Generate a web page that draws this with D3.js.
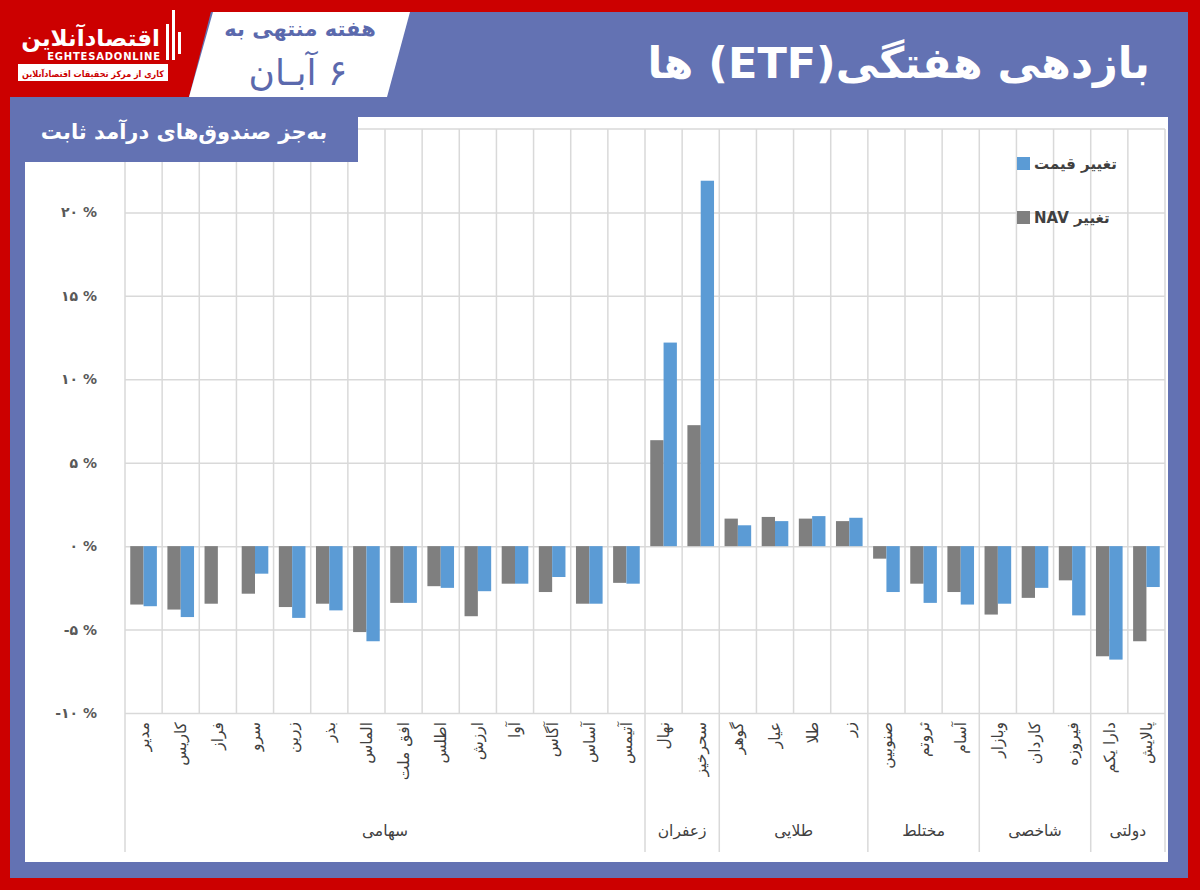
<!DOCTYPE html>
<html><head><meta charset="utf-8">
<script src="https://cdn.jsdelivr.net/npm/d3@7"></script>
<style>
body{margin:0;background:#fff}
svg{display:block}
text{font-family:"DejaVu Sans",sans-serif}
</style>
</head><body>
<svg id="chart" width="1200" height="890"></svg>
<script>
const categories = ["مدیر","کاریس","فراز","سرو","زرین","بذر","الماس","افق ملت","اطلس","ارزش","آوا","آگاس","آساس","آتیمس",
  "نهال","سحرخیز","گوهر","عیار","طلا","زر","صنوبین","ثروتم","آسام","وبازار","کاردان","فیروزه","دارا یکم","پالایش"];
const groups = ["سهامی","زعفران","طلایی","مختلط","شاخصی","دولتی"];
const groupSizes = [14,2,4,3,3,2];
const navChange = [-3.5,-3.8,-3.45,-2.85,-3.65,-3.45,-5.15,-3.4,-2.4,-4.2,-2.25,-2.75,-3.45,-2.2,
  6.35,7.25,1.65,1.75,1.65,1.5,-0.75,-2.25,-2.75,-4.1,-3.1,-2.05,-6.6,-5.7];
const priceChange = [-3.6,-4.25,null,-1.65,-4.3,-3.85,-5.7,-3.4,-2.5,-2.7,-2.25,-1.85,-3.45,-2.25,
  12.2,21.9,1.25,1.5,1.8,1.7,-2.75,-3.4,-3.5,-3.45,-2.5,-4.15,-6.8,-2.45];
const seriesKeys = ["nav","price"];
const seriesNames = ["تغییر NAV","تغییر قیمت"];
const seriesColors = ["#7f7f7f","#5b9bd5"];
const yTicks = [-10,-5,0,5,10,15,20];
const yTickLabels = ["-۱۰ %","-۵ %","۰ %","۵ %","۱۰ %","۱۵ %","۲۰ %"];
const title = "بازدهی هفتگی(ETF) ها";
const subtitle = "به‌جز صندوق‌های درآمد ثابت";
const dateLine1 = "هفته منتهی به";
const dateLine2 = "۶ آبـان";

const RLE = "\u202B", PDF = "\u202C";
const svg = d3.select("#chart");

// frame
svg.append("rect").attr("width",1200).attr("height",890).attr("fill","#cc0000");
svg.append("rect").attr("x",10).attr("y",12).attr("width",1178).attr("height",866).attr("fill","#6372b3");
// logo red area
svg.append("path").attr("d","M0,0H214L189,97H0Z").attr("fill","#cc0000");
// date parallelogram
svg.append("path").attr("d","M213,12H410L387,97H189Z").attr("fill","#ffffff");
svg.append("text").attr("x",300).attr("y",36).attr("text-anchor","middle").attr("fill","#5b69ad")
  .attr("font-size",21).attr("font-weight","bold").text(dateLine1);
svg.append("text").attr("x",298).attr("y",85).attr("text-anchor","middle").attr("fill","#5b69ad")
  .attr("font-size",36).text(RLE+dateLine2+PDF);

// logo
svg.append("text").attr("x",160).attr("y",46).attr("text-anchor","end").attr("fill","#fff")
  .attr("font-size",23).attr("font-weight","bold").text("اقتصادآنلاین");
[166,172,178].forEach((bx,i)=>{
  svg.append("rect").attr("x",bx).attr("y",[24,10,32][i]).attr("width",3).attr("height",[36,50,22][i]).attr("fill","#fff");
});
svg.append("text").attr("x",104).attr("y",60).attr("text-anchor","middle").attr("fill","#fff")
  .attr("font-size",10).attr("font-weight","bold").attr("letter-spacing",0.8).text("EGHTESADONLINE");
svg.append("rect").attr("x",18).attr("y",64).attr("width",150).attr("height",17).attr("fill","#fff");
svg.append("text").attr("x",22).attr("y",76.5).attr("fill","#cc0000")
  .attr("font-size",9).attr("font-weight","bold")
  .attr("textLength",142).attr("lengthAdjust","spacingAndGlyphs")
  .text("کاری از مرکز تحقیقات اقتصادآنلاین");

// title
svg.append("text").attr("x",1150).attr("y",78).attr("text-anchor","end").attr("fill","#fff")
  .attr("font-size",43).attr("font-weight","bold").text(RLE+title+PDF);

// white panel
svg.append("rect").attr("x",25).attr("y",117).attr("width",1143).attr("height",745).attr("fill","#fff");

// scales
const x0 = d3.scaleBand().domain(categories).range([125,1165]).padding(0);
const x1 = d3.scaleBand().domain(seriesKeys).range([0,x0.bandwidth()]).paddingInner(0).paddingOuter(0.395);
const y = d3.scaleLinear().domain([-10,25]).range([713,129]);

const grid = "#d9d9d9";
// horizontal gridlines + y labels
const yAxis = d3.axisLeft(y).tickValues(yTicks).tickSize(-(1165-125)).tickPadding(28)
  .tickFormat((d,i)=>yTickLabels[i]);
const gy = svg.append("g").attr("transform","translate(125,0)").call(yAxis);
gy.select(".domain").remove();
gy.selectAll("line").attr("stroke",grid).attr("stroke-width",1.5);
gy.selectAll("text").attr("fill","#595959").attr("font-size",14).attr("font-weight","bold")
  .attr("font-family","DejaVu Sans, sans-serif");
// top border
svg.append("line").attr("x1",125).attr("x2",1165).attr("y1",y(25)).attr("y2",y(25)).attr("stroke",grid).attr("stroke-width",1.5);
// vertical gridlines
const edges = categories.map(c=>x0(c)).concat([x0.range()[1]]);
svg.append("g").selectAll("line").data(edges).join("line")
  .attr("x1",d=>d).attr("x2",d=>d).attr("y1",y(25)).attr("y2",y(-10))
  .attr("stroke",grid).attr("stroke-width",1.5);

// bars
const rows = categories.map((c,i)=>({cat:c, nav:navChange[i], price:priceChange[i]}));
const gb = svg.append("g");
seriesKeys.forEach((k,si)=>{
  gb.selectAll(".b"+k).data(rows.filter(r=>r[k]!==null)).join("rect")
    .attr("x",d=>x0(d.cat)+x1(k)).attr("width",x1.bandwidth())
    .attr("y",d=>y(Math.max(0,d[k]))).attr("height",d=>Math.abs(y(d[k])-y(0)))
    .attr("fill",seriesColors[si]);
});

// category labels
const xAxis = d3.axisBottom(x0).tickSize(0);
const gx = svg.append("g").attr("transform","translate(0,713)").call(xAxis);
gx.select(".domain").remove();
gx.selectAll("text").attr("x",0).attr("y",0).attr("dy","0.35em")
  .attr("transform","translate(0,9) rotate(-90)").attr("text-anchor","end")
  .attr("fill","#404040").attr("font-size",15.5).attr("font-family","DejaVu Sans, sans-serif");

// group separators & labels
let start = 0;
const gbounds = [];
groups.forEach((g,i)=>{
  const a = x0(categories[start]);
  const endIdx = start+groupSizes[i]-1;
  const b = x0(categories[endIdx])+x0.bandwidth();
  gbounds.push({name:g, a, b});
  start += groupSizes[i];
});
const sepX = [gbounds[0].a].concat(gbounds.map(d=>d.b));
svg.append("g").selectAll("line").data(sepX).join("line")
  .attr("x1",d=>d).attr("x2",d=>d).attr("y1",713).attr("y2",852)
  .attr("stroke",grid).attr("stroke-width",1.5);
svg.append("g").selectAll("text").data(gbounds).join("text")
  .attr("x",d=>(d.a+d.b)/2).attr("y",836).attr("text-anchor","middle")
  .attr("fill","#404040").attr("font-size",15.5).text(d=>d.name);

// legend (price first, NAV second)
const legendOrder = [1,0];
legendOrder.forEach((si,j)=>{
  const ly = 157 + j*54;
  svg.append("rect").attr("x",1017).attr("y",ly).attr("width",13).attr("height",13).attr("fill",seriesColors[si]);
  svg.append("text").attr("x",1034).attr("y",ly+12).attr("text-anchor","start")
    .attr("fill","#404040").attr("font-size",15).attr("font-weight","bold").text(RLE+seriesNames[si]+PDF);
});

// subtitle box (drawn over plot corner)
svg.append("rect").attr("x",10).attr("y",97).attr("width",348).attr("height",65).attr("fill","#6372b3");
svg.append("text").attr("x",184).attr("y",139).attr("text-anchor","middle").attr("fill","#fff")
  .attr("font-size",21).attr("font-weight","bold").text(RLE+subtitle+PDF);
</script>
</body></html>
